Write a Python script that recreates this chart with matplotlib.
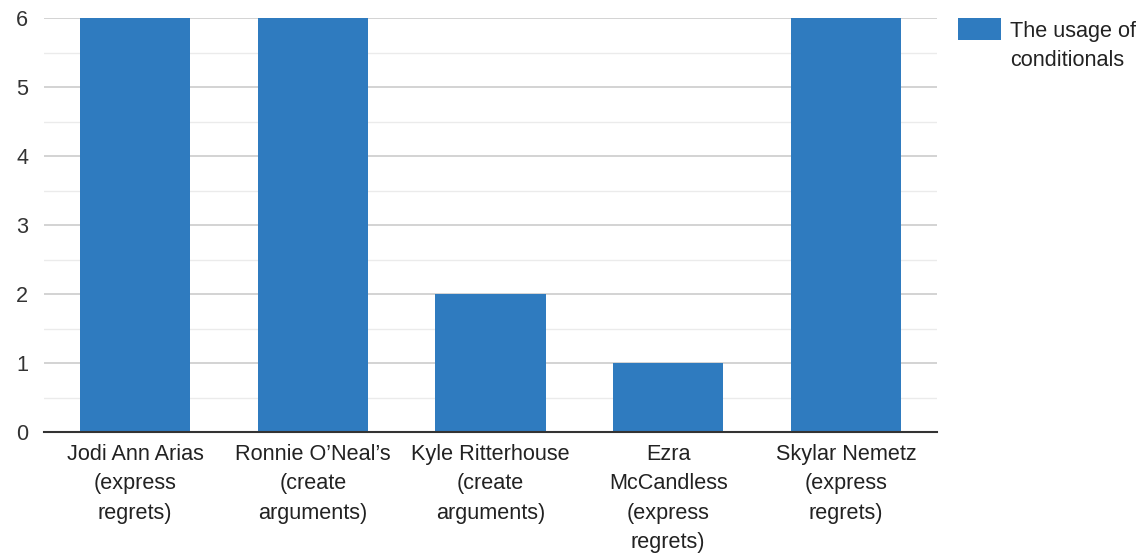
import matplotlib
matplotlib.use("Agg")
import matplotlib.pyplot as plt
from matplotlib.patches import Rectangle
import numpy as np

plt.rcParams['font.family'] = ['Liberation Sans', 'DejaVu Sans']

categories = [
    "Jodi Ann Arias\n(express\nregrets)",
    "Ronnie O\u2019Neal\u2019s\n(create\narguments)",
    "Kyle Ritterhouse\n(create\narguments)",
    "Ezra\nMcCandless\n(express\nregrets)",
    "Skylar Nemetz\n(express\nregrets)",
]
values = [6, 6, 2, 1, 6]
series_name = "The usage of\nconditionals"
y_ticks = [0, 1, 2, 3, 4, 5, 6]

bar_color = "#2f7bbf"
text_color = "#333333"
label_size = 15.6

W, H = 1148, 553
fig = plt.figure(figsize=(W / 100, H / 100), dpi=100)
ax = fig.add_axes([44 / W, 1 - 432 / H, (937 - 44) / W, (432 - 18) / H])

x = np.arange(len(categories))
ax.bar(x, values, width=0.62, color=bar_color, zorder=3, label=series_name)

ax.set_xlim(-0.512, len(categories) - 0.488)
ax.set_ylim(0, 6)
ax.set_yticks(y_ticks)
ax.set_yticks(np.arange(0.5, 6, 1.0), minor=True)
ax.set_xticks(x)
ax.set_xticklabels(categories, fontsize=label_size, color="#222222", linespacing=1.53)
ax.tick_params(axis='y', which='major', length=0, pad=11.5, labelsize=label_size, labelcolor=text_color)
ax.tick_params(axis='y', which='minor', length=0)
ax.tick_params(axis='x', length=0, pad=8.5)

ax.grid(axis='y', which='major', color="#cccccc", linewidth=1.2, zorder=0)
ax.grid(axis='y', which='minor', color="#ebebeb", linewidth=1.0, zorder=0)

for side in ['top', 'right', 'left']:
    ax.spines[side].set_visible(False)
ax.spines['bottom'].set_color("#333333")
ax.spines['bottom'].set_linewidth(1.5)
ax.spines['bottom'].set_zorder(4)

# legend: colour swatch with a two-line label beside it
fig.patches.append(Rectangle((958 / W, 1 - 40 / H), 43 / W, 22 / H,
                             transform=fig.transFigure, facecolor=bar_color,
                             edgecolor='none'))
fig.text(1010 / W, 1 - 40 / H, series_name, fontsize=label_size, color="#222222",
         ha='left', va='center_baseline', linespacing=1.45,
         transform=fig.transFigure)

fig.savefig("out.png", dpi=100, facecolor="white")
